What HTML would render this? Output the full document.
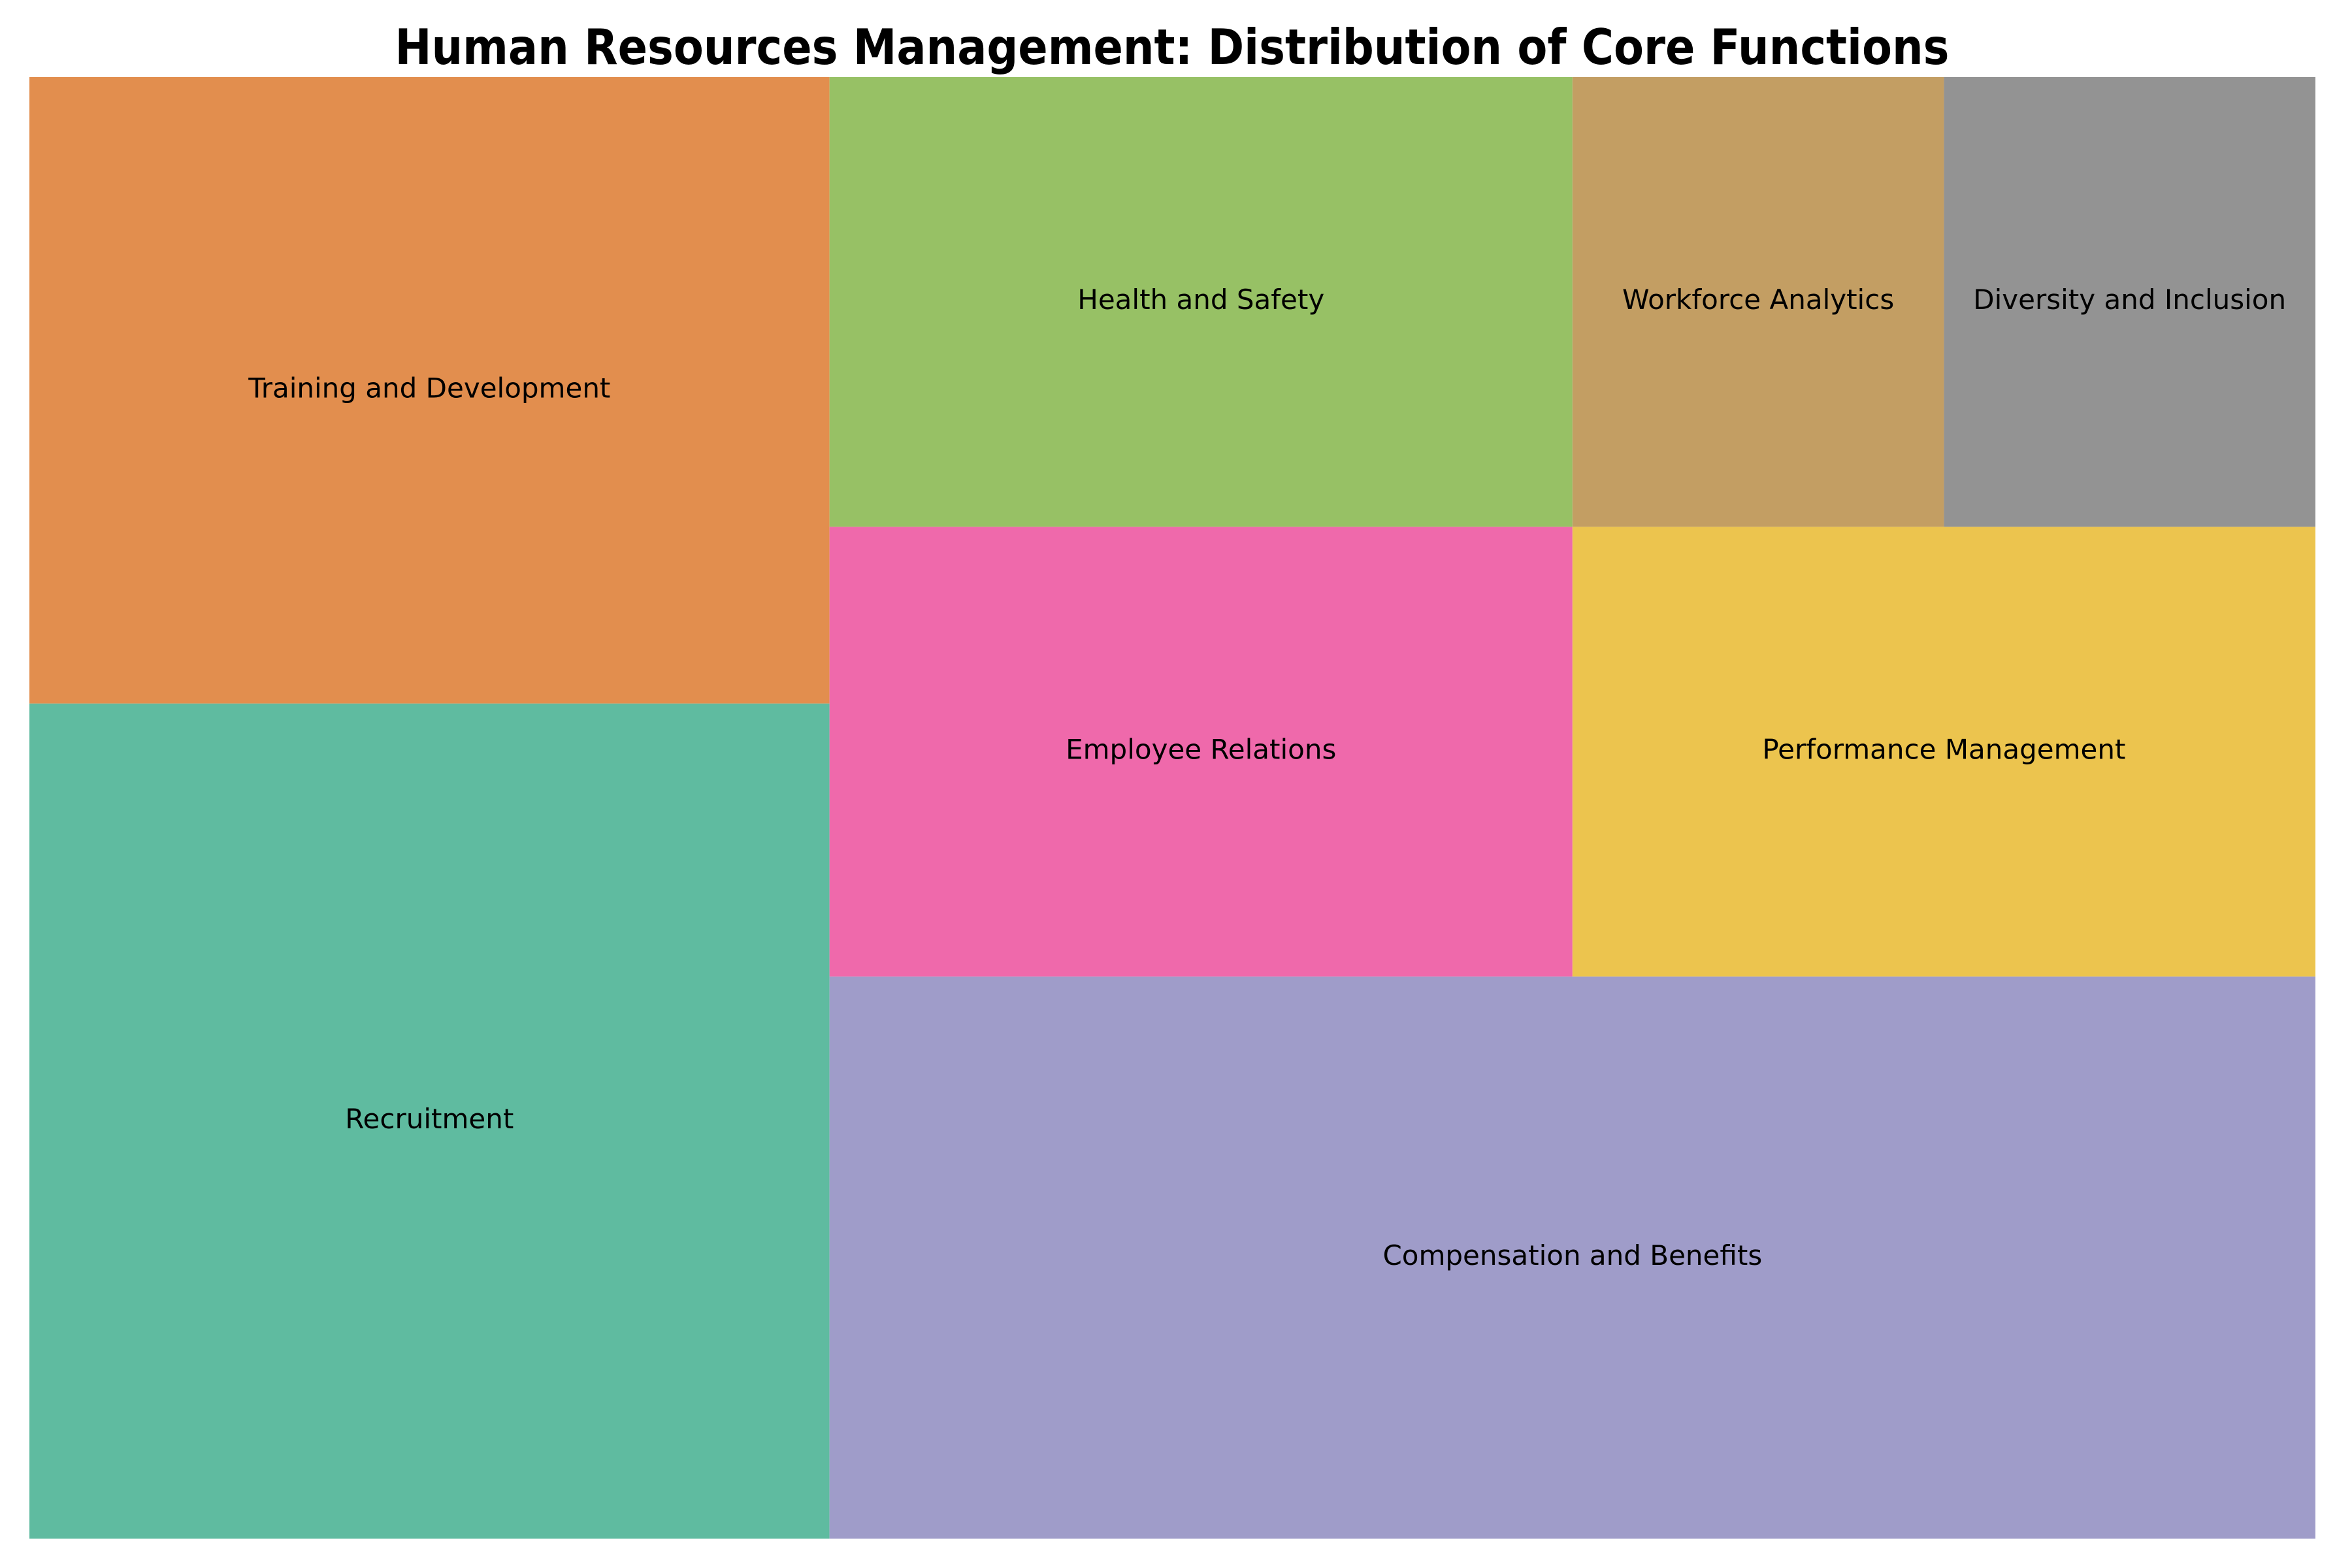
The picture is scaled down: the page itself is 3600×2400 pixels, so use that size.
<!DOCTYPE html>
<html><head><meta charset="utf-8"><style>
html,body{margin:0;padding:0;background:#fff;}
svg{display:block;}
text{font-family:"DejaVu Sans","Liberation Sans",sans-serif;}
</style></head><body>
<svg id="chart" width="3600" height="2400" viewBox="0 0 3600 2400" xmlns="http://www.w3.org/2000/svg">
<rect x="0" y="0" width="3600" height="2400" fill="#ffffff"/>
<text x="1794" y="98" text-anchor="middle" font-size="75" font-weight="bold" textLength="2379" lengthAdjust="spacingAndGlyphs" fill="#000">Human Resources Management: Distribution of Core Functions</text>
<g id="rects"></g>
</svg>
<script>
const categories = ["Recruitment","Training and Development","Compensation and Benefits","Employee Relations","Performance Management","Health and Safety","Workforce Analytics","Diversity and Inclusion"];
const values = [20,15,25,10,10,10,5,5];
const colors = ["#5fbba0","#e28e4e","#9f9cc9","#ef69ab","#ecc44e","#97c165","#c39e63","#939393"];
// strips of tile indices: 'v' = vertical strip on the left (stacked bottom-up), 'h' = horizontal strip at the bottom (left to right)
const groups = [[0,1],[2],[3,4],[5,6,7]];
const orient = ["v","h","h","h"];

const PX0=45, PX1=3544, PY0=118, PY1=2355, NX=100, NY=100;
function sx(v){return PX0+(v/NX)*(PX1-PX0);}
function sy(v){return PY1-(v/NY)*(PY1-PY0);}

const total=values.reduce((p,c)=>p+c,0);
const norm=values.map(v=>v*NX*NY/total);
const rects=[];
let X=0,Y=0,DX=NX,DY=NY;
groups.forEach((grp,gi)=>{
  const a=grp.reduce((p,i)=>p+norm[i],0);
  if(orient[gi]==="v"){
    const w=a/DY; let y=Y;
    grp.forEach(i=>{const h=norm[i]/w; rects[i]={x:X,y:y,dx:w,dy:h}; y+=h;});
    X+=w; DX-=w;
  } else {
    const h=a/DX; let x=X;
    grp.forEach(i=>{const w=norm[i]/h; rects[i]={x:x,y:Y,dx:w,dy:h}; x+=w;});
    Y+=h; DY-=h;
  }
});
const g=document.getElementById('rects');
const NS="http://www.w3.org/2000/svg";
rects.forEach((r,i)=>{
  if(!r)return;
  const x0=sx(r.x),x1=sx(r.x+r.dx),y0=sy(r.y+r.dy),y1=sy(r.y);
  const rc=document.createElementNS(NS,'rect');
  rc.setAttribute('x',x0);rc.setAttribute('y',y0);
  rc.setAttribute('width',x1-x0);rc.setAttribute('height',y1-y0);
  rc.setAttribute('fill',colors[i%colors.length]);
  
  
  g.appendChild(rc);
  const cx=(x0+x1)/2,cy=(y0+y1)/2;
  const t=document.createElementNS(NS,'text');
  t.setAttribute('x',cx);
  t.setAttribute('y',cy+11);
  t.setAttribute('text-anchor','middle');
  t.setAttribute('font-size','42');
  t.setAttribute('fill','#000');
  t.textContent=categories[i];
  
  
  g.appendChild(t);
});
</script>
</body></html>
